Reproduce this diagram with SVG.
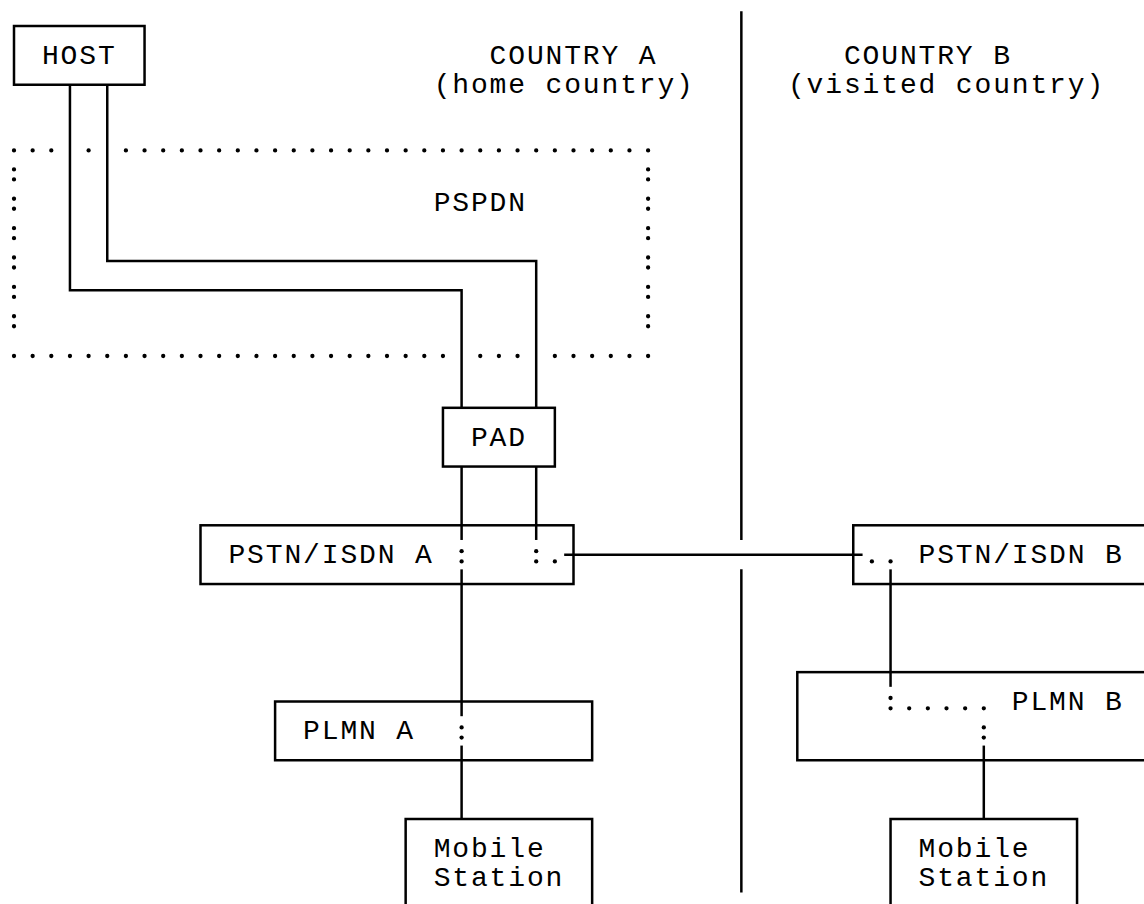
<svg xmlns="http://www.w3.org/2000/svg" width="1144" height="904" viewBox="0 0 1144 904">
<style>
.box{fill:none;stroke:#000;stroke-width:2.5}
.ln{fill:none;stroke:#000;stroke-width:2.5}
.dots{fill:none;stroke:#000;stroke-width:4.3;stroke-linecap:round}
.dot{fill:#000}
text{font-family:"Liberation Mono","Courier New",monospace;font-size:28px;letter-spacing:1.85px;fill:#000}
</style>
<rect x="0" y="0" width="1144" height="904" fill="#fff"/>

<g id="pspdn">
  <path class="dots" stroke-dasharray="0 18.65" d="M14,150.4 H51.4"/>
  <circle class="dot" cx="88.6" cy="150.4" r="2.15"/>
  <path class="dots" stroke-dasharray="0 18.65" d="M125.9,150.4 H648.3"/>
  <path class="dots" stroke-dasharray="0 18.65" d="M14,356 H443.1"/>
  <path class="dots" stroke-dasharray="0 18.65" d="M480.25,356 H517.7"/>
  <path class="dots" stroke-dasharray="0 18.65" d="M554.85,356 H648.3"/>
  <path class="dots" stroke-dasharray="0 10 0 19.37" d="M14,169.4 V326.5"/>
  <path class="dots" stroke-dasharray="0 10 0 19.37" d="M648.1,169.4 V326.5"/>
  <text x="433.63" y="210.82">PSPDN</text>
</g>

<g id="labels">
  <text x="489.58" y="63.97">COUNTRY A</text>
  <text x="433.63" y="93.34">(home country)</text>
  <text x="843.93" y="63.97">COUNTRY B</text>
  <text x="787.98" y="93.34">(visited country)</text>
</g>

<g id="host">
  <rect class="box" x="14" y="26" width="130.55" height="58.74"/>
  <text x="41.98" y="63.97">HOST</text>
</g>

<g id="pad">
  <rect class="box" x="442.95" y="407.81" width="111.9" height="58.74"/>
  <text x="470.93" y="445.78">PAD</text>
</g>

<g id="pstn-isdn-a">
  <rect class="box" x="200.5" y="525.29" width="373" height="58.74"/>
  <text x="228.48" y="563.26">PSTN/ISDN A</text>
</g>

<g id="pstn-isdn-b">
  <rect class="box" x="853.25" y="525.29" width="298.4" height="58.74"/>
  <text x="918.53" y="563.26">PSTN/ISDN B</text>
</g>

<g id="plmn-a">
  <rect class="box" x="275.1" y="701.51" width="317.05" height="58.74"/>
  <text x="303.08" y="739.48">PLMN A</text>
</g>

<g id="plmn-b">
  <rect class="box" x="797.3" y="672.14" width="354.35" height="88.11"/>
  <text x="1011.78" y="710.11">PLMN B</text>
</g>

<g id="ms-a">
  <path class="box" d="M405.65,910 V819 H592.15 V910"/>
  <text x="433.63" y="856.96">Mobile</text>
  <text x="433.63" y="886.33">Station</text>
</g>

<g id="ms-b">
  <path class="box" d="M890.55,910 V819 H1077.05 V910"/>
  <text x="918.53" y="856.96">Mobile</text>
  <text x="918.53" y="886.33">Station</text>
</g>

<g id="connectors">
  <path class="ln" d="M69.95,84.74 V290.33 H461.6 V407.81"/>
  <path class="ln" d="M107.25,84.74 V260.96 H536.2 V407.81"/>
  <path class="ln" d="M461.6,466.55 V539.97"/>
  <path class="ln" d="M536.2,466.55 V539.97"/>
  <circle class="dot" cx="461.6" cy="551.2" r="2.15"/>
  <circle class="dot" cx="461.6" cy="561.4" r="2.15"/>
  <circle class="dot" cx="536.2" cy="551.2" r="2.15"/>
  <circle class="dot" cx="536.2" cy="561.4" r="2.15"/>
  <circle class="dot" cx="554.85" cy="561.4" r="2.15"/>
  <path class="ln" d="M564.18,554.66 H862.58"/>
  <circle class="dot" cx="871.9" cy="561.4" r="2.15"/>
  <circle class="dot" cx="890.55" cy="561.4" r="2.15"/>
  <path class="ln" d="M461.6,569.35 V716.2"/>
  <circle class="dot" cx="461.6" cy="727.4" r="2.15"/>
  <circle class="dot" cx="461.6" cy="737.6" r="2.15"/>
  <path class="ln" d="M461.6,745.57 V819"/>
  <path class="ln" d="M890.55,569.35 V686.83"/>
  <circle class="dot" cx="890.55" cy="698" r="2.15"/>
  <path class="dots" stroke-dasharray="0 18.65" d="M890.55,708.3 H984"/>
  <circle class="dot" cx="983.8" cy="727.4" r="2.15"/>
  <circle class="dot" cx="983.8" cy="737.6" r="2.15"/>
  <path class="ln" d="M983.8,745.57 V819"/>
</g>

<g id="border">
  <path class="ln" d="M741.35,11.3 V539.97"/>
  <path class="ln" d="M741.35,569.35 V892.4"/>
</g>
</svg>
